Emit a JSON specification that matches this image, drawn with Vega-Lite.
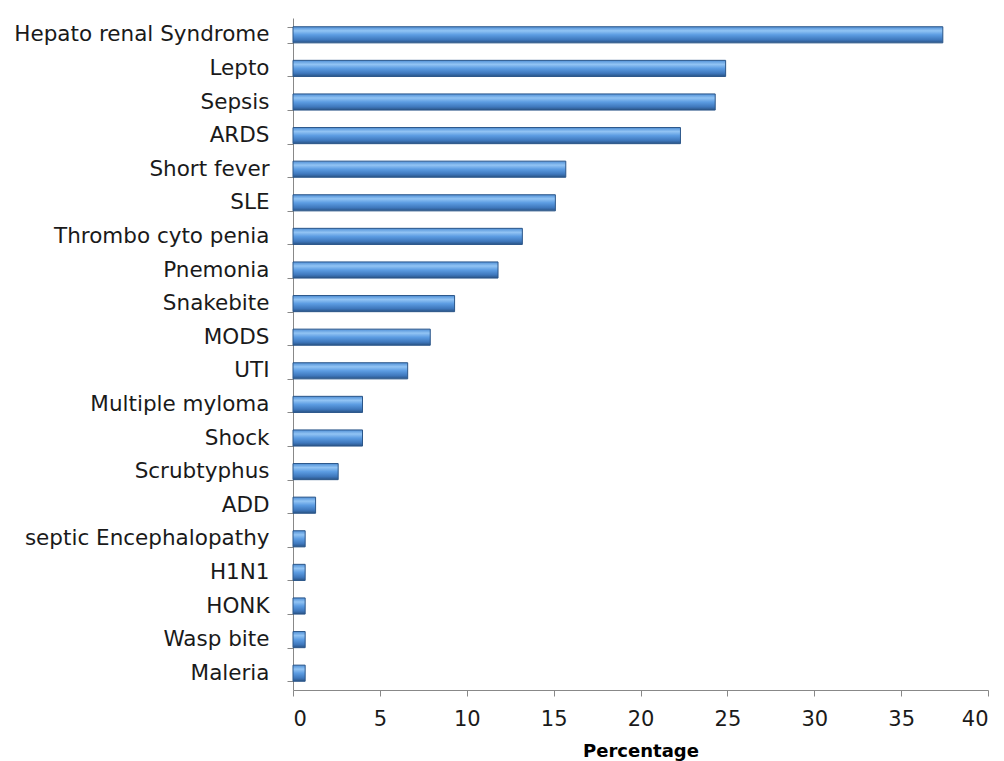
{
  "$schema": "https://vega.github.io/schema/vega-lite/v6.json",
  "width": 695,
  "height": 672,
  "autosize": {"type": "none"},
  "padding": {"left": 293, "top": 18, "right": 16, "bottom": 71},
  "background": "white",
  "config": {"view": {"stroke": null}},
  "data": {
    "values": [
      {"cause": "Hepato renal Syndrome", "pct": 37.4},
      {"cause": "Lepto", "pct": 24.9},
      {"cause": "Sepsis", "pct": 24.3},
      {"cause": "ARDS", "pct": 22.3},
      {"cause": "Short fever", "pct": 15.7},
      {"cause": "SLE", "pct": 15.1},
      {"cause": "Thrombo cyto penia", "pct": 13.2},
      {"cause": "Pnemonia", "pct": 11.8},
      {"cause": "Snakebite", "pct": 9.3},
      {"cause": "MODS", "pct": 7.9},
      {"cause": "UTI", "pct": 6.6},
      {"cause": "Multiple myloma", "pct": 4.0},
      {"cause": "Shock", "pct": 4.0},
      {"cause": "Scrubtyphus", "pct": 2.6},
      {"cause": "ADD", "pct": 1.3},
      {"cause": "septic Encephalopathy", "pct": 0.7},
      {"cause": "H1N1", "pct": 0.7},
      {"cause": "HONK", "pct": 0.7},
      {"cause": "Wasp bite", "pct": 0.7},
      {"cause": "Maleria", "pct": 0.7}
    ]
  },
  "mark": {
    "type": "bar",
    "stroke": "#2b5689",
    "strokeWidth": 1,
    "fill": {
      "gradient": "linear",
      "x1": 0, "y1": 0, "x2": 0, "y2": 1,
      "stops": [
        {"offset": 0, "color": "#4f8fd6"},
        {"offset": 0.25, "color": "#92c4f4"},
        {"offset": 0.5, "color": "#5c9ce2"},
        {"offset": 0.8, "color": "#3f78bd"},
        {"offset": 1, "color": "#2a5486"}
      ]
    }
  },
  "encoding": {
    "y": {
      "field": "cause",
      "type": "nominal",
      "sort": null,
      "scale": {"paddingInner": 0.52, "paddingOuter": 0.26},
      "axis": {
        "title": null,
        "tickBand": "extent",
        "domainColor": "#888888",
        "tickColor": "#888888",
        "tickSize": 6,
        "labelFont": "DejaVu Sans",
        "labelFontSize": 21.5,
        "labelColor": "#1a1a1a",
        "labelPadding": 18,
        "labelLimit": 300
      }
    },
    "x": {
      "field": "pct",
      "type": "quantitative",
      "scale": {"domain": [0, 40], "nice": false},
      "axis": {
        "title": "Percentage",
        "values": [0, 5, 10, 15, 20, 25, 30, 35, 40],
        "grid": false,
        "domainColor": "#888888",
        "tickColor": "#888888",
        "tickSize": 6,
        "labelFont": "DejaVu Sans",
        "labelFontSize": 21,
        "labelColor": "#1a1a1a",
        "labelPadding": 12,
        "titleFont": "DejaVu Sans",
        "titleFontSize": 18,
        "titleFontWeight": "bold",
        "titleColor": "#000000",
        "titlePadding": 13
      }
    }
  }
}
